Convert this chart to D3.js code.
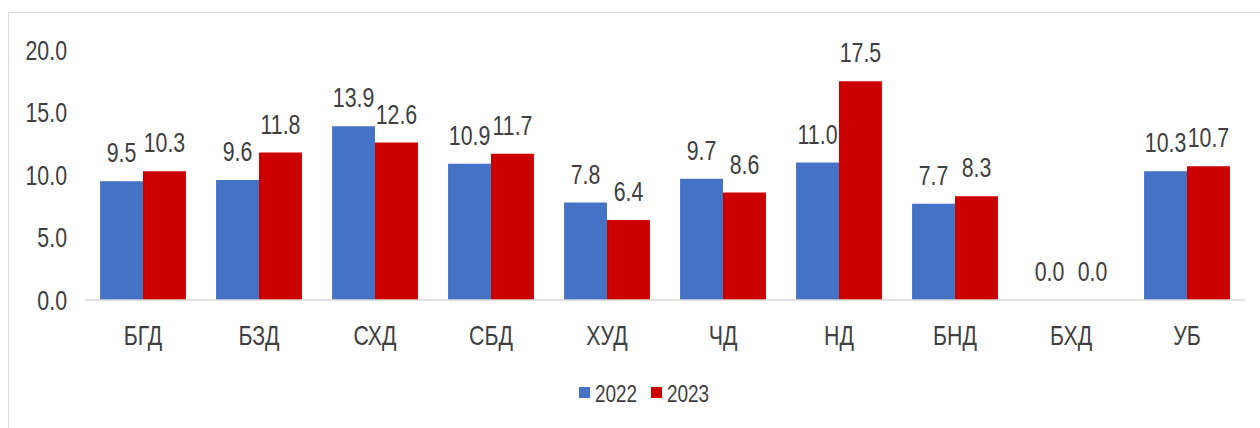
<!DOCTYPE html>
<html>
<head>
<meta charset="utf-8">
<script src="https://cdn.jsdelivr.net/npm/d3@7"></script>
<style>
  body { margin: 0; background: #fff; }
  text { font-family: "Liberation Sans", Arial, sans-serif; fill: #404040; }
</style>
</head>
<body>
<div id="chart"></div>
<script>
// chart data
let categories = ["БГД", "БЗД", "СХД", "СБД", "ХУД", "ЧД", "НД", "БНД", "БХД", "УБ"];
let series = ["2022", "2023"];
let values2022 = [9.5, 9.6, 13.9, 10.9, 7.8, 9.7, 11.0, 7.7, 0.0, 10.3];
let values2023 = [10.3, 11.8, 12.6, 11.7, 6.4, 8.6, 17.5, 8.3, 0.0, 10.7];
let yTicks = [0, 5, 10, 15, 20];
let colors = ["#4472C4", "#CC0000"];

let data = categories.map((c, i) => ({ cat: c, vals: [values2022[i], values2023[i]] }));

let W = 1260, H = 428;
let margin = { top: 50, right: 15, bottom: 128, left: 85 },
  width = W - margin.left - margin.right,
  height = H - margin.top - margin.bottom;

// the source font is condensed, so squeeze the text horizontally
let squeeze = 0.79;
function place(sel, fx, fy) {
  sel.attr("transform", (d, i) => "translate(" + fx(d, i) + "," + fy(d, i) + ") scale(" + squeeze + ",1)");
}

let svg = d3.select("#chart").append("svg")
  .attr("width", W)
  .attr("height", H);

// outer frame (runs off the right and bottom edge)
svg.append("rect")
  .attr("x", 8.5).attr("y", 12.5)
  .attr("width", 1300).attr("height", 500)
  .attr("fill", "none")
  .attr("stroke", "#d9d9d9");

let g = svg.append("g")
  .attr("transform", "translate(" + margin.left + "," + margin.top + ")");

let x = d3.scaleBand()
  .domain(categories)
  .range([0, width])
  .paddingInner(0.26)
  .paddingOuter(0.13);

let x1 = d3.scaleBand()
  .domain(series)
  .range([0, x.bandwidth()]);

let y = d3.scaleLinear()
  .domain([0, 20])
  .range([height, 0]);

// y axis labels
g.selectAll(".ytick")
  .data(yTicks)
  .enter().append("text")
  .attr("class", "ytick")
  .attr("dy", "0.36em")
  .attr("text-anchor", "end")
  .style("font-size", "27px")
  .text(d => d.toFixed(1))
  .call(place, () => -18, d => y(d));

// bars
let groups = g.selectAll(".grp")
  .data(data)
  .enter().append("g")
  .attr("class", "grp")
  .attr("transform", d => "translate(" + x(d.cat) + ",0)");

groups.selectAll("rect")
  .data(d => d.vals.map((v, i) => ({ key: series[i], v: v, i: i })))
  .enter().append("rect")
  .attr("x", d => x1(d.key))
  .attr("y", d => y(d.v))
  .attr("width", x1.bandwidth())
  .attr("height", d => y(0) - y(d.v))
  .attr("fill", d => colors[d.i]);

groups.selectAll(".val")
  .data(d => d.vals.map((v, i) => ({ key: series[i], v: v })))
  .enter().append("text")
  .attr("class", "val")
  .attr("text-anchor", "middle")
  .style("font-size", "27px")
  .text(d => d.v.toFixed(1))
  .call(place, d => x1(d.key) + x1.bandwidth() / 2, d => y(d.v) - 19);

// baseline
g.append("line")
  .attr("x1", 0).attr("x2", width)
  .attr("y1", y(0)).attr("y2", y(0))
  .attr("stroke", "#d9d9d9")
  .attr("stroke-width", 1.5);

// category labels
g.selectAll(".cat")
  .data(categories)
  .enter().append("text")
  .attr("class", "cat")
  .attr("dy", "0.36em")
  .attr("text-anchor", "middle")
  .style("font-size", "27px")
  .text(d => d)
  .call(place, d => x(d) + x.bandwidth() / 2, () => y(0) + 35);

// legend
let legend = svg.append("g")
  .attr("transform", "translate(579,393)");

let items = legend.selectAll(".leg")
  .data(series)
  .enter().append("g")
  .attr("transform", (d, i) => "translate(" + i * 72 + ",0)");

items.append("rect")
  .attr("x", 0).attr("y", -6)
  .attr("width", 11).attr("height", 11)
  .attr("fill", (d, i) => colors[i]);

items.append("text")
  .attr("dy", "0.36em")
  .style("font-size", "24px")
  .text(d => d)
  .call(place, () => 16, () => 0);
</script>
</body>
</html>
